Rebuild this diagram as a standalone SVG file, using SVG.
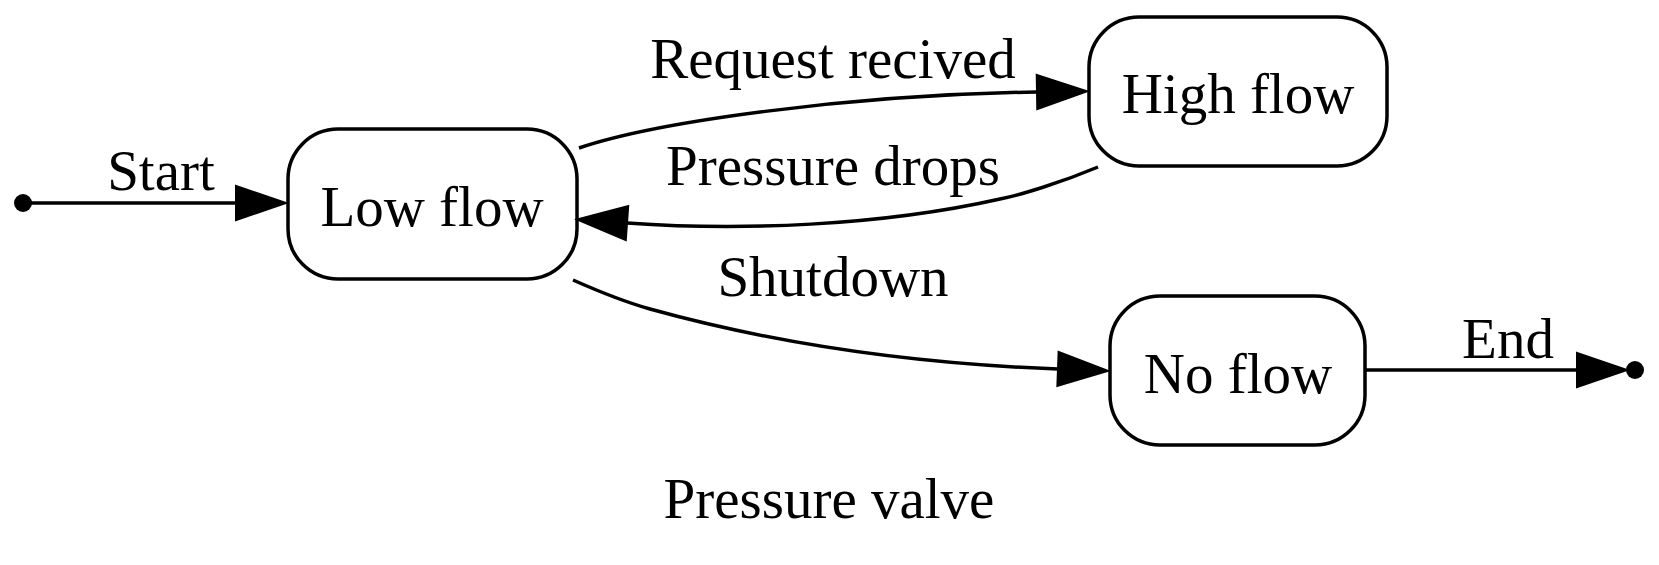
<svg xmlns="http://www.w3.org/2000/svg" width="1659" height="565" viewBox="0 0 1659 565">
<style>
.node rect{fill:#fff;stroke:#000;stroke-width:3.5}
text{font-family:"Liberation Serif","Times New Roman",serif;font-size:57px;fill:#000;text-anchor:middle}
.edge{fill:none;stroke:#000;stroke-width:3.5}
.dot{fill:#000}
</style>
<defs>
<marker id="arr" markerUnits="userSpaceOnUse" markerWidth="52" markerHeight="36" refX="0" refY="17" orient="auto" overflow="visible">
<path d="M0,0 L50,17 L0,34 Z" fill="#000" stroke="#000" stroke-width="2"/>
</marker>
</defs>
<rect width="1659" height="565" fill="#fff"/>
<g id="start"><circle class="dot" cx="23" cy="203" r="9"/></g>
<g id="end"><circle class="dot" cx="1635" cy="370" r="9"/></g>
<g id="low-flow" class="node"><rect x="288" y="129" width="289" height="150" rx="50"/><text x="432" y="226">Low flow</text></g>
<g id="high-flow" class="node"><rect x="1089" y="17" width="298" height="149" rx="50"/><text x="1238" y="113">High flow</text></g>
<g id="no-flow" class="node"><rect x="1110" y="296" width="255" height="149" rx="50"/><text x="1238" y="393">No flow</text></g>
<g id="connectors">
<path class="edge" d="M23,203 L236,203" marker-end="url(#arr)"/>
<text x="161" y="190">Start</text>
<path class="edge" d="M579,148 C656,122 846,95 1037,92" marker-end="url(#arr)"/>
<text x="833" y="78">Request recived</text>
<path class="edge" d="M1098,167 C1060,183 1020,195 1000,199 C880,226 740,231 627,223" marker-end="url(#arr)"/>
<text x="833" y="185">Pressure drops</text>
<path class="edge" d="M573,280 C600,292 625,302 650,309 C780,345 920,364 1058,369" marker-end="url(#arr)"/>
<text x="833" y="296">Shutdown</text>
<path class="edge" d="M1365,370 L1577,370" marker-end="url(#arr)"/>
<text x="1508" y="358">End</text>
</g>
<text id="title" x="829" y="518">Pressure valve</text>
</svg>
